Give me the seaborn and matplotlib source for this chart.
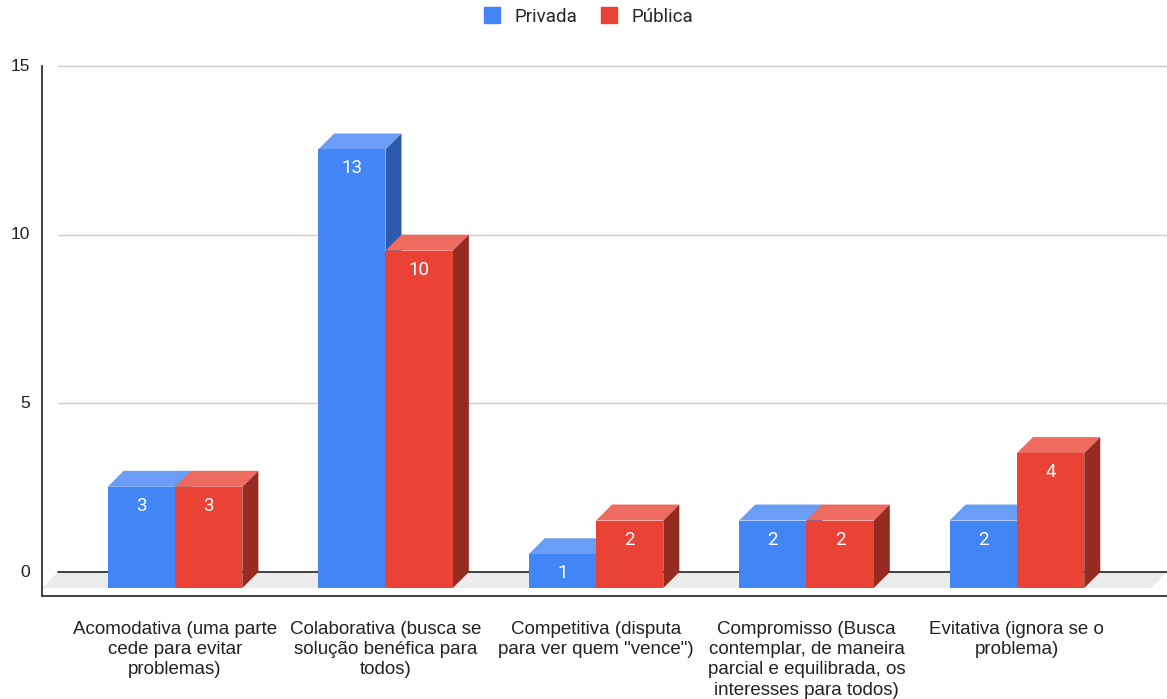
import pandas as pd
import seaborn as sns
import matplotlib.pyplot as plt
import matplotlib.transforms as mtransforms
from matplotlib.patches import Polygon
from matplotlib.lines import Line2D

categorias = [
    'Acomodativa (uma parte\ncede para evitar\nproblemas)',
    'Colaborativa (busca se\nsolução benéfica para\ntodos)',
    'Competitiva (disputa\npara ver quem "vence")',
    'Compromisso (Busca\ncontemplar, de maneira\nparcial e equilibrada, os\ninteresses para todos)',
    'Evitativa (ignora se o\nproblema)',
]
privada = [3, 13, 1, 2, 2]
publica = [3, 10, 2, 2, 4]
series = ['Privada', 'Pública']
yticks = [0, 5, 10, 15]

cores = {'Privada': '#4285F4', 'Pública': '#EA4335'}
topo = {'Privada': '#6A9EF6', 'Pública': '#EE6B5F'}
lado = {'Privada': '#2C5AAE', 'Pública': '#962B22'}

df = pd.DataFrame({
    'cat': categorias * 2,
    'serie': ['Privada'] * len(privada) + ['Pública'] * len(publica),
    'valor': privada + publica,
})

sns.set_style('white')
plt.rcParams['font.family'] = ['Liberation Sans', 'DejaVu Sans']

W, H = 1167, 699
fig = plt.figure(figsize=(W / 100, H / 100), dpi=100)
ax = fig.add_axes([42 / W, 103 / H, 1125 / W, 530 / H])

sns.barplot(data=df, x='cat', y='valor', hue='serie', hue_order=series,
            palette=cores, width=0.64, saturation=1, errorbar=None,
            legend=False, linewidth=0, ax=ax)

ax.set_xlim(-0.632, 4.713)
ax.set_ylim(-0.237, 15.475)
ax.set_xlabel('')
ax.set_ylabel('')
ax.grid(False)

# profundidade (3D) em pixels -> unidades de dados
prof = 16
p0 = ax.transData.transform((0, 0))
p1 = ax.transData.transform((1, 1))
dx = prof / (p1[0] - p0[0])
dy = prof / (p1[1] - p0[1])
x0l, x1l = ax.get_xlim()

# piso
piso = Polygon([(x0l, 0), (x1l - dx, 0), (x1l, dy), (x0l + dx, dy)],
               closed=True, facecolor='#ebebeb', edgecolor='none',
               zorder=0.5, clip_on=False)
ax.add_patch(piso)

# grade no plano de fundo
fundo = ax.transData + mtransforms.ScaledTranslation(prof / 100, prof / 100, fig.dpi_scale_trans)
for v in yticks:
    cor = '#333333' if v == 0 else '#cccccc'
    lw = 1.3 if v == 0 else 1.0
    ax.plot([x0l, x1l - dx], [v, v], color=cor, lw=lw, transform=fundo,
            zorder=0.8, clip_on=False)
    ax.text(0, v, str(v), transform=ax.get_yaxis_transform() +
            mtransforms.ScaledTranslation(-12 / 100, prof / 100, fig.dpi_scale_trans),
            ha='right', va='center', fontsize=12.5, color='#222222')

# barras 3D
rotulo = ax.transData + mtransforms.ScaledTranslation(0, -19 / 100, fig.dpi_scale_trans)
for i, (nome, cont) in enumerate(zip(series, ax.containers)):
    z = 2 + i
    for bar in cont:
        x0 = bar.get_x()
        w = bar.get_width()
        h = bar.get_height()
        bar.set_zorder(z)
        ax.add_patch(Polygon([(x0, h), (x0 + w, h), (x0 + w + dx, h + dy), (x0 + dx, h + dy)],
                             closed=True, facecolor=topo[nome], edgecolor='none', zorder=z - 0.1))
        ax.add_patch(Polygon([(x0 + w, 0), (x0 + w + dx, dy), (x0 + w + dx, h + dy), (x0 + w, h)],
                             closed=True, facecolor=lado[nome], edgecolor='none', zorder=z - 0.1))
        ax.text(x0 + w / 2, h, f'{h:.0f}', transform=rotulo, ha='center', va='center',
                color='white', fontsize=13.5, family=['Roboto', 'DejaVu Sans'], zorder=5)

for s in ['top', 'right']:
    ax.spines[s].set_visible(False)
for s in ['left', 'bottom']:
    ax.spines[s].set_color('#333333')
    ax.spines[s].set_linewidth(1.3)

ax.set_yticks([])
ax.tick_params(axis='x', direction='inout', length=12, width=1.2, color='#333333',
               pad=12, labelsize=13.5, labelcolor='#222222')
for lab in ax.get_xticklabels():
    lab.set_linespacing(1.25)

handles = [Line2D([0], [0], marker='s', ls='', markersize=11,
                  markerfacecolor=cores[s], markeredgecolor=cores[s]) for s in series]
fig.legend(handles, series, loc='center', bbox_to_anchor=(0.5, 1 - 17 / H), ncol=2,
           frameon=False, handletextpad=0.2, columnspacing=0.7,
           prop={'family': ['Roboto', 'DejaVu Sans'], 'size': 13.5})

fig.savefig('out.png', dpi=100)
